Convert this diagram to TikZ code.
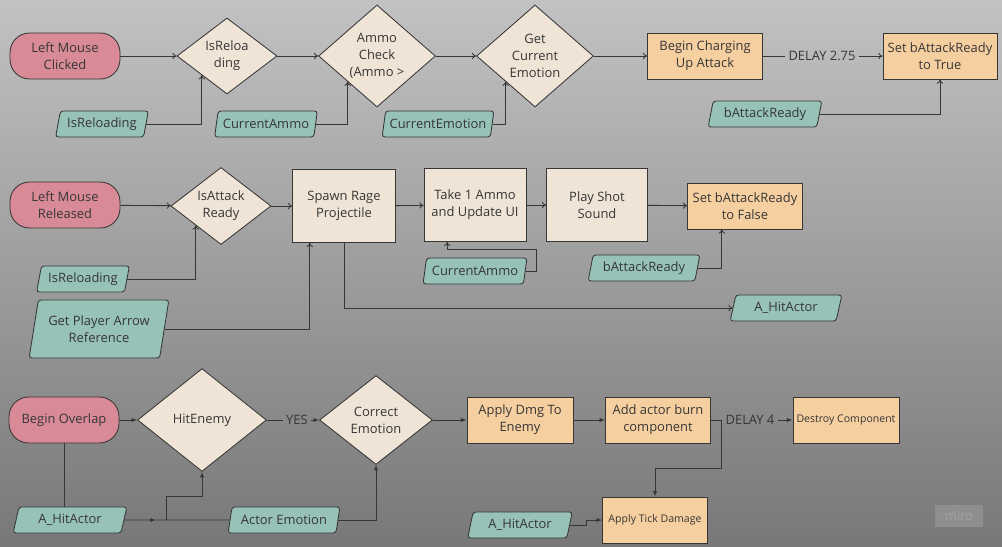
\documentclass[tikz,border=0pt]{standalone}
\usepackage{fontspec}
\setmainfont{Open Sans}
\usetikzlibrary{shapes.geometric,arrows.meta,calc}

\definecolor{termfill}{HTML}{D98A97}
\definecolor{decfill}{HTML}{F0E4D6}
\definecolor{actfill}{HTML}{F6CFA0}
\definecolor{datafill}{HTML}{97C2B8}
\definecolor{linecol}{HTML}{363636}

\begin{document}
\begin{tikzpicture}[x=0.025cm,y=-0.025cm,
  color=linecol, line width=0.6pt,
  font=\fontsize{9.2}{12}\selectfont,
  >={To[length=3pt,width=4.5pt]},
  term/.style={draw, fill=termfill, rounded corners=14pt, align=center,
    minimum width=2.75cm, minimum height=1.15cm, inner sep=0pt},
  dec/.style={draw, fill=decfill, diamond, align=center, inner sep=0pt},
  proc/.style={draw, fill=decfill, align=center, inner sep=0pt, minimum height=1.82cm},
  act/.style={draw, fill=actfill, align=center, inner sep=0pt, minimum height=1.15cm},
  data/.style={draw, fill=datafill, trapezium, trapezium left angle=75,
    trapezium right angle=105, trapezium stretches=true, rounded corners=2pt,
    align=center, inner sep=1pt, minimum height=0.65cm},
  lbl/.style={inner sep=2pt},
  small/.style={font=\fontsize{7.5}{10}\selectfont}]

\shade[top color=black!24, bottom color=black!53] (0,0) rectangle (1002,547);

% row 1
\node[term] (a1) at (65,56) {Left Mouse\\Clicked};
\node[dec, minimum width=2.5cm, minimum height=1.9cm] (a2) at (227,56) {IsReloa\\ding};
\node[dec, minimum width=2.92cm, minimum height=2.55cm] (a3) at (377,56) {Ammo\\Check\\(Ammo >};
\node[dec, minimum width=2.92cm, minimum height=2.55cm] (a4) at (535,56) {Get\\Current\\Emotion};
\node[act, minimum width=2.87cm] (a5) at (705,56) {Begin Charging\\Up Attack};
\node[act, minimum width=2.85cm] (a6) at (940,56) {Set bAttackReady\\to True};
\node[lbl] (d1) at (822,56) {DELAY 2.75};
\node[data, minimum width=2.32cm] (a7) at (102,124) {IsReloading};
\node[data, minimum width=2.57cm] (a8) at (266,124) {CurrentAmmo};
\node[data, minimum width=2.8cm] (a9) at (438,124) {CurrentEmotion};
\node[data, minimum width=2.85cm] (a10) at (765,114) {bAttackReady};

\draw[->] (a1) -- (a2);
\draw[->] (a2) -- (a3);
\draw[->] (a3) -- (a4);
\draw[->] (a4) -- (a5);
\draw (a5) -- (d1);
\draw[->] (d1) -- (a6);
\draw[->] (a7.east) -| ($(a2.south)!0.5!(a2.west)$);
\draw[->] (a8.east) -| ($(a3.south)!0.5!(a3.west)$);
\draw[->] (a9.east) -| ($(a4.south)!0.5!(a4.west)$);
\draw[->] (a10.east) -| (a6.south);

% row 2
\node[term] (b1) at (65,205) {Left Mouse\\Released};
\node[dec, minimum width=2.5cm, minimum height=1.78cm] (b2) at (221,206) {IsAttack\\Ready};
\node[proc, minimum width=2.57cm] (b3) at (344,206) {Spawn Rage\\Projectile};
\node[proc, minimum width=2.55cm] (b4) at (475,205) {Take 1 Ammo\\and Update UI};
\node[proc, minimum width=2.52cm] (b5) at (597,205) {Play Shot\\Sound};
\node[act, minimum width=2.87cm] (b6) at (745,206) {Set bAttackReady\\to False};
\node[data, minimum width=2.32cm] (b7) at (83,279) {IsReloading};
\node[data, minimum width=3.5cm, minimum height=1.45cm] (b8) at (99,329) {Get Player Arrow\\Reference};
\node[data, minimum width=2.6cm] (b9) at (475,271) {CurrentAmmo};
\node[data, minimum width=2.8cm] (b10) at (644,268) {bAttackReady};
\node[data, minimum width=2.8cm] (b11) at (786,308) {A\_HitActor};

\draw[->] (b1) -- (b2);
\draw[->] (b2) -- (b3);
\draw[->] (b3) -- (b4);
\draw[->] (b4) -- (b5);
\draw[->] (b5) -- (b6);
\draw[->] (b7.east) -| ($(b2.south)!0.5!(b2.west)$);
\draw[->] (b8.east) -| ($(b3.south west)!0.17!(b3.south east)$);
\draw[->] (b3.south) |- (b11.west);
\draw[->] (b9.east) -- ++(11,0) |- ($(b4.south west)!0.23!(b4.south east)+(0,8)$)
  -- ($(b4.south west)!0.23!(b4.south east)$);
\draw[->] (b10.east) -| ($(b6.south west)!0.3!(b6.south east)$);

% row 3
\begin{scope}[>={Latex[length=4pt,width=3pt]}]
\node[term] (c1) at (64,420) {Begin Overlap};
\node[dec, minimum width=3.22cm, minimum height=2.57cm] (c2) at (202,420) {HitEnemy};
\node[dec, minimum width=2.82cm, minimum height=2.22cm] (c3) at (376,420) {Correct\\Emotion};
\node[act, minimum width=2.65cm] (c4) at (520,420) {Apply Dmg To\\Enemy};
\node[act, minimum width=2.62cm] (c5) at (658,420) {Add actor burn\\component};
\node[act, small, minimum width=2.65cm] (c6) at (846,420) {Destroy Component};
\node[act, small, minimum width=2.62cm] (c7) at (655,520) {Apply Tick Damage};
\node[lbl] (y1) at (297,420) {YES};
\node[lbl] (d2) at (750,420) {DELAY 4};
\node[data, minimum width=2.85cm] (c8) at (70,520) {A\_HitActor};
\node[data, minimum width=2.8cm] (c9) at (284,520) {Actor Emotion};
\node[data, minimum width=2.62cm] (c10) at (520,525) {A\_HitActor};
\coordinate (j) at (166,520);

\draw[->] (c1) -- (c2);
\draw (c2) -- (y1);
\draw[->] (y1) -- (c3);
\draw[->] (c3) -- (c4);
\draw[->] (c4) -- (c5);
\draw (c5) -- (d2);
\draw[->] (d2) -- (c6);
\draw (c1.south) -- (c1.south |- c8.north);
\draw[->] (c8.east) -- ($(j)-(10,0)$);
\draw ($(j)-(10,0)$) -- (c9.west);
\draw[->] (j) |- ($(c2.south)+(0,25)$) -- (c2.south);
\draw[->] (c9.east) -| (c3.south);
\draw[->] (c5.east) -- ++(11,0) |- ($(c7.north)+(0,-28)$) -- (c7.north);
\draw[->] (c10.east) -- ++(16,0) |- (c7.west);
\end{scope}

\node[fill=black!44, text=black!37, minimum width=1.2cm, minimum height=0.57cm,
  inner sep=0pt, font=\fontsize{9}{10}\selectfont] (w) at (959,516) {miro};
\end{tikzpicture}
\end{document}
